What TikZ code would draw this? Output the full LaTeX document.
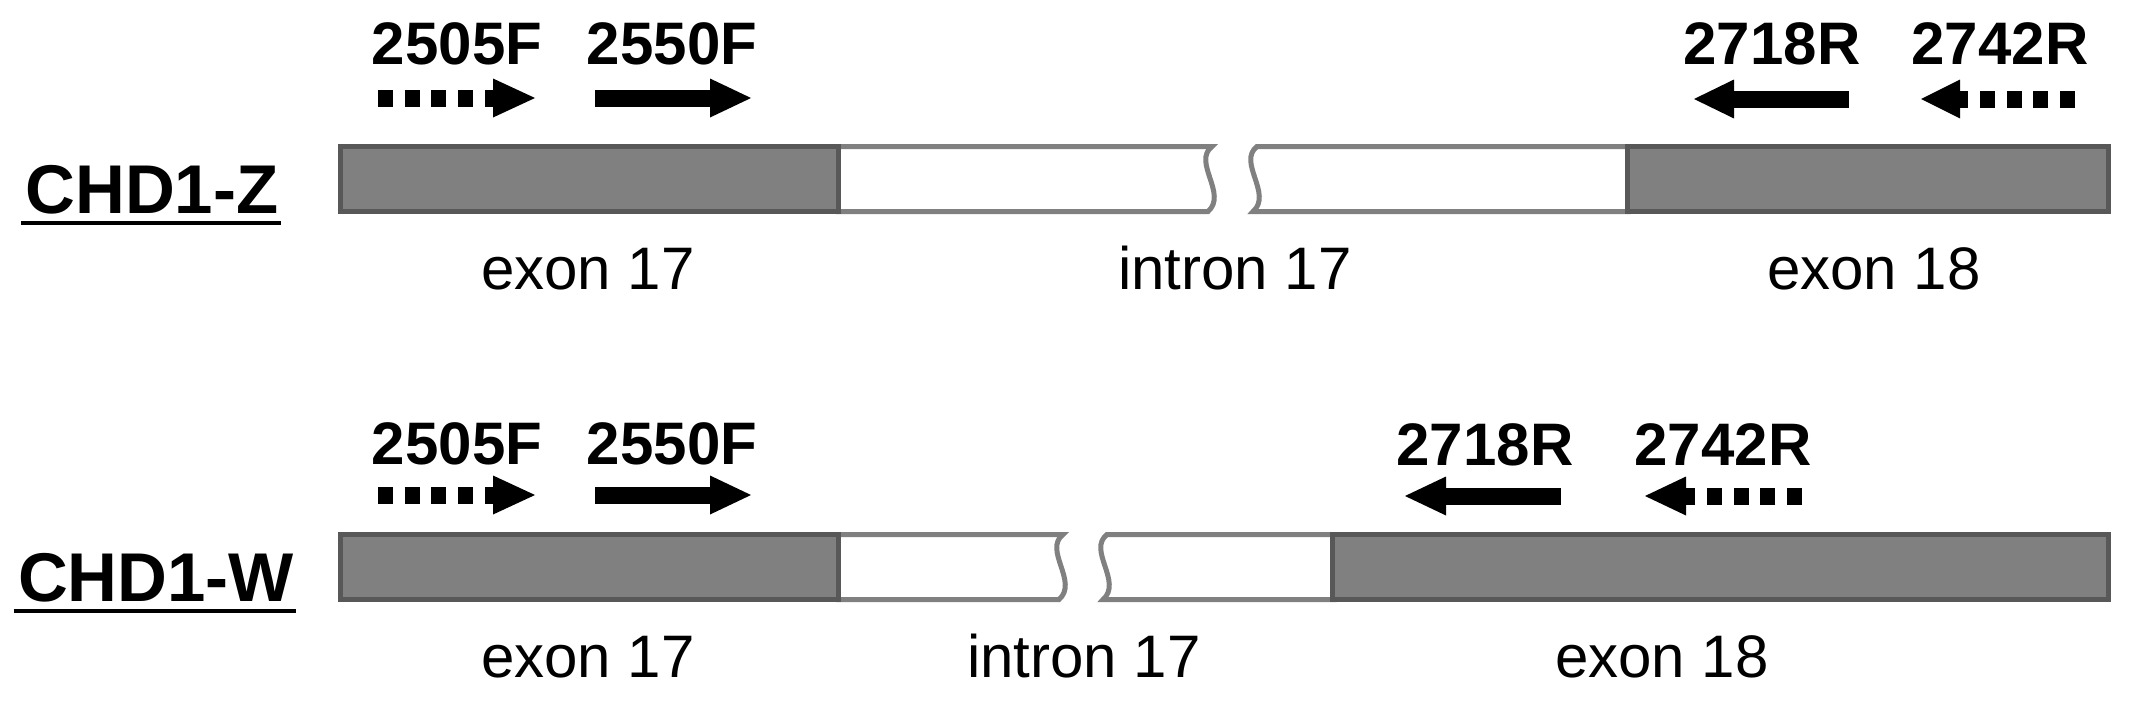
\documentclass[tikz,border=0pt]{standalone}
\usepackage{fontspec}
\setmainfont{Liberation Sans}
\definecolor{exfill}{RGB}{128,128,128}
\definecolor{exedge}{RGB}{88,88,88}
\definecolor{inedge}{RGB}{128,128,128}
\begin{document}
\begin{tikzpicture}[x=1pt,y=-1pt,
  exonbox/.style={fill=exfill,draw=exedge,line width=5pt},
  intronbox/.style={fill=white,draw=inedge,line width=5pt,line join=miter},
  primer/.style={font=\fontsize{60}{70}\selectfont\bfseries,inner sep=0pt,anchor=base},
  partlbl/.style={font=\fontsize{60}{70}\selectfont,inner sep=0pt,anchor=base},
  genelbl/.style={font=\fontsize{69}{80}\selectfont\bfseries,inner sep=0pt,anchor=base},
  shaft/.style={line width=17pt},
  dotshaft/.style={line width=17pt,dash pattern=on 15pt off 11.7pt},
  headtip/.style={fill=black}
]
\useasboundingbox (0,0) rectangle (2132,701);

% ===== CHD1-Z =====
\node[genelbl] (gz) at (152,213) {CHD1-Z};
\draw[line width=4pt] ([shift={(-4,10)}]gz.base west) -- ([shift={(2,10)}]gz.base east);

% intron pieces
\path[intronbox] (838,146.5) -- (1212,146.5) .. controls (1192,162) and (1228,194) .. (1208,211.5) -- (838,211.5) -- cycle;
\path[intronbox] (1257,146.5) -- (1628,146.5) -- (1628,211.5) -- (1253,211.5) .. controls (1273,194) and (1237,162) .. cycle;
% exons
\path[exonbox] (340.5,146.5) rectangle (838.5,211.5);
\path[exonbox] (1627.5,146.5) rectangle (2108.5,211.5);

\node[partlbl] (ze17) at (588,289) {exon 17};
\node[partlbl] (zi17) at (1235,289) {intron 17};
\node[partlbl] (ze18) at (1874,289) {exon 18};

% primers
\node[primer] (zp1) at (457,65) {2505F};
\node[primer] (zp2) at (672,65) {2550F};
\node[primer] (zp3) at (1772,65) {2718R};
\node[primer] (zp4) at (2000,65) {2742R};

\draw[dotshaft] (378,98) -- (495,98);
\fill[headtip] (493,78.5) -- (535,98) -- (493,117.5) -- cycle;
\draw[shaft] (595,98) -- (712,98);
\fill[headtip] (710,78.5) -- (751,98) -- (710,117.5) -- cycle;
\draw[shaft] (1849,99) -- (1732,99);
\fill[headtip] (1734,79.5) -- (1694,99) -- (1734,118.5) -- cycle;
\draw[dotshaft] (2075,99) -- (1958,99);
\fill[headtip] (1960,79.5) -- (1921,99) -- (1960,118.5) -- cycle;

% ===== CHD1-W =====
\node[genelbl] (gw) at (156,601) {CHD1-W};
\draw[line width=4pt] ([shift={(-4,10)}]gw.base west) -- ([shift={(2,10)}]gw.base east);

\path[intronbox] (838,534.5) -- (1063,534.5) .. controls (1043,550) and (1079,582) .. (1059,599.5) -- (838,599.5) -- cycle;
\path[intronbox] (1107,534.5) -- (1334,534.5) -- (1334,599.5) -- (1103,599.5) .. controls (1123,582) and (1087,550) .. cycle;
\path[exonbox] (340.5,534.5) rectangle (838.5,599.5);
\path[exonbox] (1332.5,534.5) rectangle (2108.5,599.5);

\node[partlbl] (we17) at (588,677) {exon 17};
\node[partlbl] (wi17) at (1084,677) {intron 17};
\node[partlbl] (we18) at (1662,677) {exon 18};

\node[primer] (wp1) at (457,464) {2505F};
\node[primer] (wp2) at (672,464) {2550F};
\node[primer] (wp3) at (1485,465) {2718R};
\node[primer] (wp4) at (1723,465) {2742R};

\draw[dotshaft] (378,495) -- (495,495);
\fill[headtip] (493,475.5) -- (535,495) -- (493,514.5) -- cycle;
\draw[shaft] (595,495) -- (712,495);
\fill[headtip] (710,475.5) -- (751,495) -- (710,514.5) -- cycle;
\draw[shaft] (1561,496) -- (1444,496);
\fill[headtip] (1446,476.5) -- (1405,496) -- (1446,515.5) -- cycle;
\draw[dotshaft] (1802,496) -- (1684,496);
\fill[headtip] (1686,476.5) -- (1645,496) -- (1686,515.5) -- cycle;
\end{tikzpicture}
\end{document}
